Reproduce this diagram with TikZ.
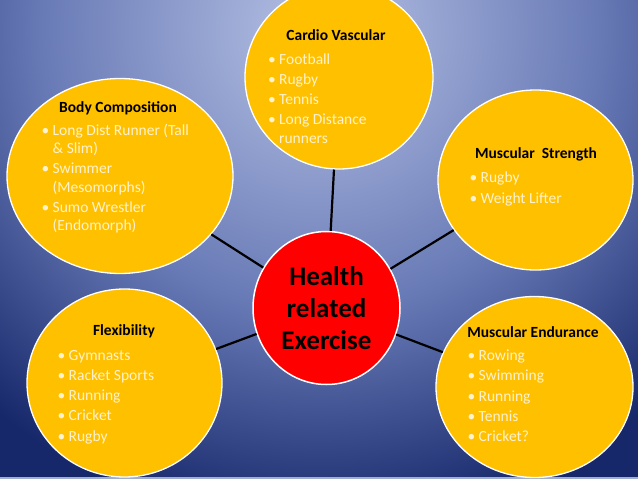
\documentclass[tikz,border=0pt]{standalone}
\usepackage{fontspec}
\setmainfont{Carlito}
\usepackage{tikz}
\usetikzlibrary{shapes.geometric, positioning}
\definecolor{gold}{RGB}{255, 192, 0}
\definecolor{hotred}{RGB}{255, 0, 0}
\definecolor{cream}{RGB}{255, 242, 204}
\definecolor{bglight}{RGB}{182, 193, 228}
\definecolor{bgmid}{RGB}{104, 122, 182}
\definecolor{bgdark}{RGB}{22, 40, 106}
\definecolor{rim}{RGB}{160, 174, 207}
\pgfdeclareradialshading{slidebg}{\pgfpoint{0bp}{0bp}}{color(0bp)=(bglight); color(14bp)=(bgmid); color(25bp)=(bgdark); color(50bp)=(bgdark)}
\newcommand{\bul}{\makebox[11pt][l]{•}}
\newcommand{\hang}{\hspace*{11pt}}

\begin{document}
\begin{tikzpicture}[
    x=1pt, y=-1pt,
    disc/.style={ellipse, draw=white, line width=1.3pt, fill=gold, inner sep=0pt},
    hub/.style={ellipse, draw=white, line width=1.5pt, fill=hotred, inner sep=0pt, minimum width=147pt, minimum height=153pt, font=\fontsize{27}{32}\selectfont\bfseries, align=center, text=black},
    head/.style={anchor=base, inner sep=0pt, font=\fontsize{15.5}{18}\selectfont\bfseries, text=black},
    items/.style={anchor=base west, inner sep=0pt, align=left, font=\fontsize{15.5}{18.2}\selectfont, text=cream},
    link/.style={line width=2.2pt, black}
]
\useasboundingbox (0,0) rectangle (638,479);
% background
\begin{scope}
\clip (0,0) rectangle (638,479);
\fill[bgdark] (0,0) rectangle (638,479);
\shade[shading=slidebg] (320,30) circle (500pt);
\end{scope}
\fill[rim] (0,476.5) rectangle (638,479);

% circles
\node[disc, minimum width=188pt, minimum height=184pt] (cv) at (339,77) {};
\node[disc, minimum width=226pt, minimum height=195pt] (bc) at (120,176) {};
\node[disc, minimum width=195pt, minimum height=180pt] (ms) at (535.5,180) {};
\node[disc, minimum width=195pt, minimum height=188pt] (fx) at (124.5,383) {};
\node[disc, minimum width=197pt, minimum height=181pt] (me) at (534.5,387) {};
\node[hub] (hre) at (326.5,308) {Health\\related\\Exercise};
\foreach \n in {cv, bc, ms, fx, me}
    \draw[link] (hre) -- (\n);

% titles
\node[head] (cv-t) at (336,40) {Cardio Vascular};
\node[head] (bc-t) at (118,112) {Body Composition};
\node[head] (ms-t) at (536,158) {Muscular\ \ Strength};
\node[head] (fx-t) at (124,335) {Flexibility};
\node[head] (me-t) at (533,337) {Muscular Endurance};

% lists (anchored at the last line)
\node[items] (cv-l) at (268,143) {\bul Football\\[2pt]\bul Rugby\\[2pt]\bul Tennis\\[2pt]\bul Long Distance\\\hang runners};
\node[items] (bc-l) at (41.5,230.5) {\bul Long Dist Runner (Tall\\\hang \& Slim)\\[2pt]\bul Swimmer\\\hang (Mesomorphs)\\[2pt]\bul Sumo Wrestler\\\hang (Endomorph)};
\node[items] (ms-l) at (469.5,203) {\bul Rugby\\[2pt]\bul Weight Lifter};
\node[items] (fx-l) at (57.5,441) {\bul Gymnasts\\[2pt]\bul Racket Sports\\[2pt]\bul Running\\[2pt]\bul Cricket\\[2pt]\bul Rugby};
\node[items] (me-l) at (467.5,441.5) {\bul Rowing\\[2pt]\bul Swimming\\[2pt]\bul Running\\[2pt]\bul Tennis\\[2pt]\bul Cricket?};
\end{tikzpicture}
\end{document}
